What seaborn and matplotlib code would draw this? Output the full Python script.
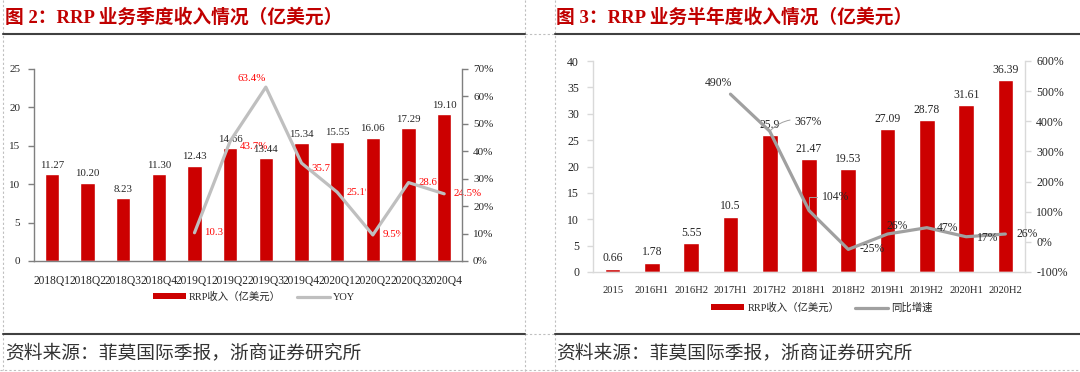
import numpy as np
import matplotlib
matplotlib.use("Agg")
import matplotlib.pyplot as plt
from matplotlib.lines import Line2D
from matplotlib.patches import Patch
from matplotlib.font_manager import FontProperties
import seaborn as sns

# ---------------- data ----------------
q_cats = ["2018Q1", "2018Q2", "2018Q3", "2018Q4", "2019Q1", "2019Q2",
          "2019Q3", "2019Q4", "2020Q1", "2020Q2", "2020Q3", "2020Q4"]
q_rev = [11.27, 10.20, 8.23, 11.30, 12.43, 14.66, 13.44, 15.34, 15.55, 16.06, 17.29, 19.10]
q_yoy = [10.3, 43.7, 63.4, 35.7, 25.1, 9.5, 28.6, 24.5]   # from 2019Q1
q_yoy_start = 4

h_cats = ["2015", "2016H1", "2016H2", "2017H1", "2017H2", "2018H1",
          "2018H2", "2019H1", "2019H2", "2020H1", "2020H2"]
h_rev = [0.66, 1.78, 5.55, 10.5, 25.9, 21.47, 19.53, 27.09, 28.78, 31.61, 36.39]
h_yoy = [490, 367, 104, -25, 26, 47, 17, 26]               # from 2017H1
h_yoy_start = 3

left_title = "图 2：RRP 业务季度收入情况（亿美元）"
right_title = "图 3：RRP 业务半年度收入情况（亿美元）"
source = "资料来源：菲莫国际季报，浙商证券研究所"
bar_name = "RRP收入（亿美元）"
q_line_name = "YOY"
h_line_name = "同比增速"

# ---------------- style ----------------
sns.set_theme(style="white")
SERIF = ["Liberation Serif", "Noto Sans CJK SC", "DejaVu Sans"]
plt.rcParams["font.family"] = SERIF
RED = "#CC0000"
TXT = "#262626"

W, H = 1080, 372
fig = plt.figure(figsize=(W / 100, H / 100), dpi=100)


def fx(px):
    return px / W


def fy(py):
    return 1 - py / H


def hline(x0, x1, y, **kw):
    fig.add_artist(Line2D([fx(x0), fx(x1)], [fy(y), fy(y)], transform=fig.transFigure, **kw))


def vline(x, y0, y1, **kw):
    fig.add_artist(Line2D([fx(x), fx(x)], [fy(y0), fy(y1)], transform=fig.transFigure, **kw))


dash = dict(color="#BFBFBF", lw=0.8, ls=(0, (2, 2)))
vline(3, 0, 370, **dash)
vline(525, 0, 372, **dash)
vline(555, 0, 372, **dash)
hline(0, 1080, 370, **dash)
hline(525, 555, 34, **dash)
hline(525, 555, 334, **dash)
solid = dict(color="#404040", lw=1.5)
hline(3, 525, 34, **solid)
hline(555, 1080, 34, **solid)
hline(3, 525, 334, **solid)
hline(555, 1080, 334, **solid)

title_kw = dict(color="#C00000", fontsize=13.5, fontweight="bold", va="center", ha="left",
                family=["Liberation Serif", "Noto Sans CJK SC"])
fig.text(fx(5), fy(17), left_title, **title_kw)
fig.text(fx(556), fy(17), right_title, **title_kw)
src_kw = dict(color="#333333", fontsize=13.5, va="center", ha="left", family=["Noto Sans CJK SC"])
fig.text(fx(5), fy(353), source, **src_kw)
fig.text(fx(556), fy(353), source, **src_kw)

leg_prop = FontProperties(family=["Liberation Serif", "Noto Sans CJK SC"], size=7.5)


def style_axis(ax, ax2, spine_color, ysize, xsize):
    for a in (ax, ax2):
        for s in a.spines.values():
            s.set_visible(False)
    ax.spines["left"].set_visible(True)
    ax.spines["bottom"].set_visible(True)
    ax2.spines["right"].set_visible(True)
    for sp in (ax.spines["left"], ax.spines["bottom"], ax2.spines["right"]):
        sp.set_color(spine_color)
        sp.set_linewidth(1.0)
    ax.tick_params(axis="y", left=True, length=4, width=1, color=spine_color, pad=6,
                   labelsize=ysize, labelcolor=TXT)
    ax.tick_params(axis="x", bottom=False, pad=4, labelsize=xsize, labelcolor=TXT)
    ax2.tick_params(axis="y", right=True, length=4, width=1, color=spine_color, pad=4,
                    labelsize=ysize, labelcolor=TXT)
    for lab in ax.get_xticklabels() + ax.get_yticklabels() + ax2.get_yticklabels():
        lab.set_fontfamily("Liberation Serif")
    ax.set_xlabel("")
    ax.set_ylabel("")
    ax2.set_xlabel("")
    ax2.set_ylabel("")
    ax.grid(False)
    ax2.grid(False)


# ---------------- left chart ----------------
L_NUM = 7.8
axL = fig.add_axes([fx(34), fy(261), fx(462) - fx(34), fy(69) - fy(261)])
axL.patch.set_alpha(0)
sns.barplot(x=q_cats, y=q_rev, color=RED, saturation=1, width=0.4, ax=axL, zorder=2)
axL.set_ylim(0, 25)
axL.set_yticks(np.arange(0, 26, 5))
axL.set_xlim(-0.5, len(q_cats) - 0.5)
axL.bar_label(axL.containers[0], labels=[f"{v:.2f}" for v in q_rev], padding=3,
              family=["Liberation Serif"], fontsize=L_NUM, color=TXT)

axL2 = axL.twinx()
qx = np.arange(len(q_cats))[q_yoy_start:]
sns.lineplot(x=qx, y=q_yoy, ax=axL2, color="#BFBFBF", lw=2.3, legend=False)
axL2.set_ylim(0, 70)
axL2.set_yticks(np.arange(0, 71, 10))
axL2.set_yticklabels([f"{v}%" for v in range(0, 71, 10)])
axL2.set_xlim(-0.5, len(q_cats) - 0.5)
style_axis(axL, axL2, "#7F7F7F", ysize=8, xsize=8.3)

q_off = [(7, 0), (7, -4), (-10, 6), (7, -4), (7, 0), (7, 0), (7, 0), (7, 0)]
q_ha = ["left", "left", "center", "left", "left", "left", "left", "left"]
for x, v, off, ha in zip(qx, q_yoy, q_off, q_ha):
    axL.annotate(f"{v:.1f}%", xy=(x, v), xycoords=axL2.transData, xytext=off,
                 textcoords="offset points", ha=ha, va="center", color="#FF0000",
                 family=["Liberation Serif"], fontsize=L_NUM, zorder=1)

axL.legend(handles=[Patch(facecolor=RED, edgecolor="none"),
                    Line2D([], [], color="#BFBFBF", lw=2.3)],
           labels=[bar_name, q_line_name], loc="center", ncol=2, frameon=False,
           bbox_to_anchor=(fx(254), fy(297)), bbox_transform=fig.transFigure,
           prop=leg_prop, handlelength=3.2, handleheight=0.5, columnspacing=1.5,
           handletextpad=0.3, labelcolor=TXT)

# ---------------- right chart ----------------
R_NUM = 8.4
axR = fig.add_axes([fx(593), fy(272), fx(1025) - fx(593), fy(61) - fy(272)])
axR.patch.set_alpha(0)
sns.barplot(x=h_cats, y=h_rev, color=RED, saturation=1, width=0.4, ax=axR, zorder=2)
axR.set_ylim(0, 40)
axR.set_yticks(np.arange(0, 41, 5))
axR.set_xlim(-0.5, len(h_cats) - 0.5)
axR.bar_label(axR.containers[0], labels=[f"{v:g}" for v in h_rev], padding=3,
              family=["Liberation Serif"], fontsize=R_NUM, color=TXT)

axR2 = axR.twinx()
hx = np.arange(len(h_cats))[h_yoy_start:]
sns.lineplot(x=hx, y=h_yoy, ax=axR2, color="#A0A0A0", lw=2.3, legend=False, zorder=5)
axR2.set_ylim(-100, 600)
axR2.set_yticks(np.arange(-100, 601, 100))
axR2.set_yticklabels([f"{v}%" for v in range(-100, 601, 100)])
axR2.set_xlim(-0.5, len(h_cats) - 0.5)
style_axis(axR, axR2, "#D9D9D9", ysize=8.5, xsize=7.6)

h_off = [(-8.6, 7.9), (18, 7), (9.4, 9.7), (8, 0), (6.5, 5.8), (7, 0), (8, -1), (8, 0)]
h_ha = ["center", "left", "left", "left", "center", "left", "left", "left"]
h_lead = [None, "arc3,rad=0.3", "angle,angleA=0,angleB=90,rad=0", None, None, None, None, None]
for x, v, off, ha, lead in zip(hx, h_yoy, h_off, h_ha, h_lead):
    kw = {}
    if lead:
        kw["arrowprops"] = dict(arrowstyle="-", color="#A0A0A0", lw=0.7,
                                connectionstyle=lead, shrinkA=1, shrinkB=1)
    axR2.annotate(f"{v:.0f}%", xy=(x, v), xytext=off, textcoords="offset points",
                  ha=ha, va="center", color=TXT, family=["Liberation Serif"],
                  fontsize=R_NUM, zorder=6, **kw)

axR.legend(handles=[Patch(facecolor=RED, edgecolor="none"),
                    Line2D([], [], color="#A0A0A0", lw=2.3)],
           labels=[bar_name, h_line_name], loc="center", ncol=2, frameon=False,
           bbox_to_anchor=(fx(822), fy(308)), bbox_transform=fig.transFigure,
           prop=leg_prop, handlelength=3.2, handleheight=0.5, columnspacing=1.5,
           handletextpad=0.3, labelcolor=TXT)

fig.savefig("out.png", dpi=100)
